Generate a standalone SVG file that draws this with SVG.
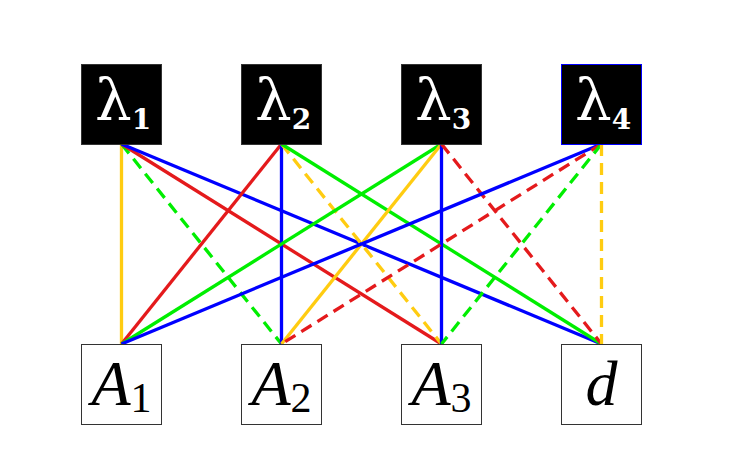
<svg xmlns="http://www.w3.org/2000/svg" width="736" height="476" viewBox="0 0 736 476">
<style>
.top{fill:#000;stroke:#333;stroke-width:1}
.bot{fill:#fff;stroke:#333;stroke-width:1}
.lam{font-family:"DejaVu Serif","Liberation Serif",serif;fill:#fff;font-size:58px;text-anchor:middle}
.sub{font-weight:bold;font-size:28px}
.lab{font-family:"Liberation Serif","DejaVu Serif",serif;fill:#000;font-size:64px;text-anchor:middle}
.it{font-style:italic}
.sub2{font-size:42px;font-style:normal}
.e{stroke-width:3.3;fill:none}
.d{stroke-dasharray:12 7}
.y{stroke:#FFCC11}.g{stroke:#00EE00}.r{stroke:#E41A1C}.b{stroke:#0000FF}
</style>
<rect width="736" height="476" fill="#fff"/>
<g id="connectors">
<line class="e y" x1="121.5" y1="144" x2="121.5" y2="344"/>
<line class="e g d" x1="121.5" y1="144" x2="281.5" y2="344"/>
<line class="e r" x1="121.5" y1="144" x2="441.5" y2="344"/>
<line class="e b" x1="121.5" y1="144" x2="601.5" y2="344"/>
<line class="e r" x1="281.5" y1="144" x2="121.5" y2="344"/>
<line class="e b" x1="281.5" y1="144" x2="281.5" y2="344"/>
<line class="e y d" x1="281.5" y1="144" x2="441.5" y2="344"/>
<line class="e g" x1="281.5" y1="144" x2="601.5" y2="344"/>
<line class="e g" x1="441.5" y1="144" x2="121.5" y2="344"/>
<line class="e y" x1="441.5" y1="144" x2="281.5" y2="344"/>
<line class="e b" x1="441.5" y1="144" x2="441.5" y2="344"/>
<line class="e r d" x1="441.5" y1="144" x2="601.5" y2="344"/>
<line class="e b" x1="601.5" y1="144" x2="121.5" y2="344"/>
<line class="e r d" x1="601.5" y1="144" x2="281.5" y2="344"/>
<line class="e g d" x1="601.5" y1="144" x2="441.5" y2="344"/>
<line class="e y d" x1="601.5" y1="144" x2="601.5" y2="344"/>
</g>
<g id="lambda1"><rect class="top" x="81.5" y="64.5" width="80" height="80"/><text class="lam" x="123" y="120">λ<tspan class="sub" dy="9">1</tspan></text></g>
<g id="lambda2"><rect class="top" x="241.5" y="64.5" width="80" height="80"/><text class="lam" x="283" y="120">λ<tspan class="sub" dy="9">2</tspan></text></g>
<g id="lambda3"><rect class="top" x="401.5" y="64.5" width="80" height="80"/><text class="lam" x="443" y="120">λ<tspan class="sub" dy="9">3</tspan></text></g>
<g id="lambda4"><rect class="top" x="561.5" y="64.5" width="80" height="80" style="stroke:#0000FF"/><text class="lam" x="603" y="120">λ<tspan class="sub" dy="9">4</tspan></text></g>
<g id="A1"><rect class="bot" x="81.5" y="344.5" width="80" height="80"/><text class="lab" x="121.5" y="405"><tspan class="it">A</tspan><tspan class="sub2" dy="7">1</tspan></text></g>
<g id="A2"><rect class="bot" x="241.5" y="344.5" width="80" height="80"/><text class="lab" x="281.5" y="405"><tspan class="it">A</tspan><tspan class="sub2" dy="7">2</tspan></text></g>
<g id="A3"><rect class="bot" x="401.5" y="344.5" width="80" height="80"/><text class="lab" x="441.5" y="405"><tspan class="it">A</tspan><tspan class="sub2" dy="7">3</tspan></text></g>
<g id="d"><rect class="bot" x="561.5" y="344.5" width="80" height="80"/><text class="lab it" x="601.5" y="405">d</text></g>
</svg>
